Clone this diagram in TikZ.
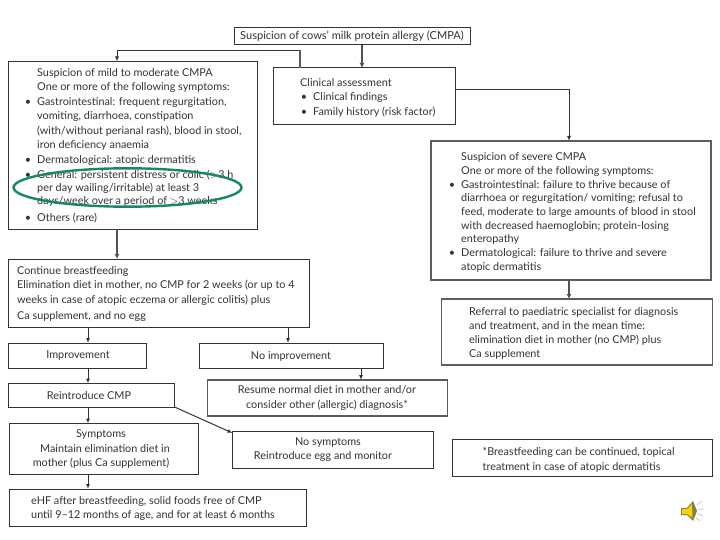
\documentclass[tikz,border=0pt]{standalone}
\usepackage{fontspec}
\setmainfont{Lato}
\usetikzlibrary{arrows.meta}
\definecolor{ink}{HTML}{333333}
\definecolor{ringgreen}{HTML}{17866B}
\newcommand{\bul}{\leavevmode\llap{\textbullet\hspace{6pt}}}
\tikzset{
  x=1pt,y=-1pt,
  boxa/.style={draw=ink,line width=1pt,fill=white,inner sep=0pt,outer sep=0pt,anchor=north west},
  boxb/.style={draw=ink!80,line width=1.6pt,fill=white,inner sep=0pt,outer sep=0pt,anchor=north west},
  txt/.style={text=ink,inner sep=0pt,align=left,anchor=north west,font=\fontsize{10.85}{14.2}\selectfont},
  ctxt/.style={txt,align=center,anchor=center},
  conn/.style={draw=ink,line width=1pt,-{Latex[length=5pt,width=4pt]}},
  connb/.style={draw=ink!85,line width=1.7pt,-{Latex[length=5pt,width=5pt]}},
}
\newcommand{\bx}[6][boxa]{\node[#1,minimum width=#5-#3,minimum height=#6-#4] (#2) at (#3,#4) {};}
\begin{document}
\begin{tikzpicture}
\useasboundingbox (0,0) rectangle (720,540);
\fill[white] (0,0) rectangle (720,540);
% boxes
\bx{top}{234.5}{27.5}{470}{45}
\bx{mild}{8.5}{61.5}{257}{229.5}
\bx{clin}{273.5}{68}{455}{125}
\bx[boxb]{sev}{431}{141}{711}{280}
\bx[boxb]{ref}{441.5}{299}{712.5}{365}
\bx{cont}{8.5}{259}{309}{327}
\bx{impr}{8.5}{343}{146}{368}
\bx{noimpr}{199.5}{343}{383}{368}
\bx{reint}{8.5}{383.5}{174.5}{407}
\bx[boxb]{resume}{207.5}{380}{447.5}{416}
\bx{sympt}{9}{423.5}{198}{474}
\bx{nosympt}{232.5}{431}{433}{468}
\bx{ehf}{9}{489}{306}{526}
\bx{note}{452.5}{439.5}{712.5}{476.5}
% connectors
\coordinate (bendl) at (117,50.5);
\coordinate (bendr) at (300,50.5);
\coordinate (clintop) at (300,68);
\coordinate (mildin) at (117,61.5);
\draw[conn] (clintop) -- (bendr) -- (bendl) -- (mildin);
\draw[line width=1.8pt,draw=ink!80] (clintop) -- (bendr);
\coordinate (topout) at (362,45); \coordinate (clinin) at (362,68);
\draw[connb] (topout) -- (clinin);
\coordinate (clinout) at (455,89.5); \coordinate (sevin) at (569,141);
\draw[conn] (clinout) -| (sevin);
\coordinate (mildout) at (117,229.5); \coordinate (contin) at (117,259);
\draw[connb,line width=1.2pt] (mildout) -- (contin);
\coordinate (c1) at (88,327); \coordinate (c2) at (88,343);
\draw[conn] (c1) -- (c2);
\coordinate (c3) at (288,327); \coordinate (c4) at (288,343);
\draw[conn] (c3) -- (c4);
\coordinate (c5) at (88,368); \coordinate (c6) at (88,383.5);
\draw[conn] (c5) -- (c6);
\coordinate (c7) at (361,368); \coordinate (c8) at (361,380);
\draw[conn] (c7) -- (c8);
\coordinate (c9) at (88,407); \coordinate (c10) at (88,423.5);
\draw[conn] (c9) -- (c10);
\coordinate (c11) at (174.5,407); \coordinate (c12) at (232.5,433);
\draw[conn] (c11) -- (c12);
\coordinate (c13) at (88,474); \coordinate (c14) at (88,489);
\draw[conn] (c13) -- (c14);
\coordinate (c15) at (569,280); \coordinate (c16) at (569,299);
\draw[connb,line width=1.2pt] (c15) -- (c16);
% texts
\node[ctxt,font=\fontsize{11.05}{14.2}\selectfont] (ttop) at (352,36) {Suspicion of cows' milk protein allergy (CMPA)};
\node[txt] (tmild) at (37,68.5) {Suspicion of mild to moderate CMPA\\
One or more of the following symptoms:\\
\bul Gastrointestinal: frequent regurgitation,\\[0.6pt]
vomiting, diarrhoea, constipation\\
(with/without perianal rash), blood in stool,\\
iron deficiency anaemia\\[1pt]
\bul Dermatological: atopic dermatitis\\[0.6pt]
\bul General: persistent distress or colic ($>$3 h\\[-1pt]
per day wailing/irritable) at least 3\\[-1pt]
days/week over a period of $>$3 weeks\\[3pt]
\bul Others (rare)};
\node[txt] (tclin) at (300,78.5) {Clinical assessment\\
\hspace*{13pt}\bul Clinical findings\\
\hspace*{13pt}\bul Family history (risk factor)};
\node[txt,font=\fontsize{10.85}{13.7}\selectfont] (tsev) at (461,152.5) {Suspicion of severe CMPA\\
One or more of the following symptoms:\\
\bul Gastrointestinal: failure to thrive because of\\
diarrhoea or regurgitation/ vomiting; refusal to\\
feed, moderate to large amounts of blood in stool\\
with decreased haemoglobin; protein-losing\\
enteropathy\\
\bul Dermatological: failure to thrive and severe\\
atopic dermatitis};
\node[txt] (tref) at (469,307) {Referral to paediatric specialist for diagnosis\\
and treatment, and in the mean time:\\
elimination diet in mother (no CMP) plus\\
Ca supplement};
\node[txt] (tcont) at (17,266.5) {Continue breastfeeding\\
Elimination diet in mother, no CMP for 2 weeks (or up to 4\\
weeks in case of atopic eczema or allergic colitis) plus\\[2pt]
Ca supplement, and no egg};
\node[ctxt] (timpr) at (78,356) {Improvement};
\node[ctxt] (tnoimpr) at (291,356) {No improvement};
\node[ctxt] (treint) at (89,395.5) {Reintroduce CMP};
\node[ctxt] (tresume) at (327,398) {Resume normal diet in mother and/or\\consider other (allergic) diagnosis*};
\node[ctxt] (tsympt) at (101,449) {Symptoms\\\hspace*{8pt}Maintain elimination diet in\\mother (plus Ca supplement)};
\node[ctxt] (tnosympt) at (323,449.5) {\hspace*{10pt}No symptoms\\Reintroduce egg and monitor};
\node[txt] (tehf) at (31,496.5) {eHF after breastfeeding, solid foods free of CMP\\until 9--12 months of age, and for at least 6 months};
\node[txt] (tnote) at (482.5,447.5) {*Breastfeeding can be continued, topical\\treatment in case of atopic dermatitis};
% ring
\draw[ringgreen,line width=2.4pt] (127.5,187.5) ellipse [x radius=114,y radius=19.2];
% speaker icon
\fill[black!55!yellow] (681,508) -- (687,508) -- (693,501) -- (697,511) -- (693,521) -- (687,515) -- (681,515) -- cycle;
\fill[yellow!70!orange] (682,509) -- (687.5,509) -- (692,504) -- (692.5,518) -- (687.5,514) -- (682,514) -- cycle;
\draw[black!35,line width=.4pt] (697,505)--(702,501) (698,510)--(703,509) (698,514)--(703,516) (696,518)--(700,521);
\end{tikzpicture}
\end{document}
